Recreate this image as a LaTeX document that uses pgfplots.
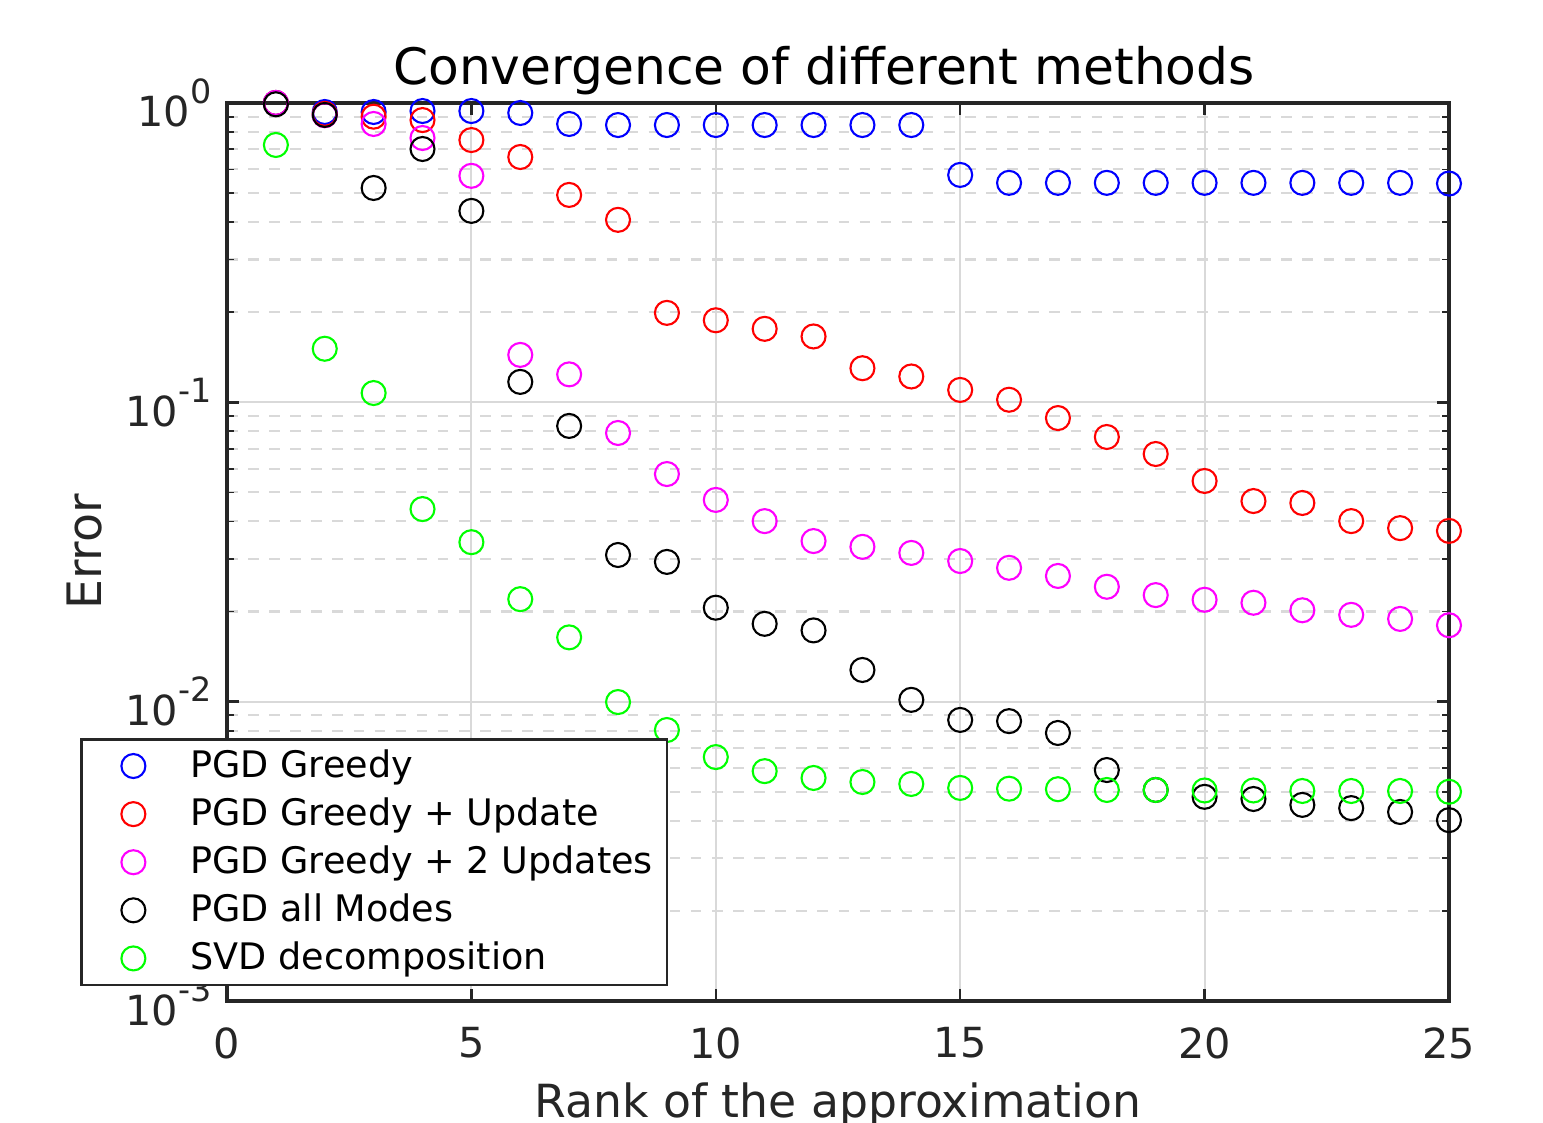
\documentclass[border=0pt]{standalone}
\usepackage{pgfplots}
\pgfplotsset{compat=1.18}
\usepackage{fontspec}
\setmainfont{DejaVu Sans}
\definecolor{mblue}{rgb}{0,0,1}
\definecolor{mred}{rgb}{1,0,0}
\definecolor{mmag}{rgb}{1,0,1}
\definecolor{mgreen}{rgb}{0,1,0}
\newcommand{\ee}[1]{10\raisebox{1.05ex}{\fontsize{9.5}{10}\selectfont #1}}
\begin{document}
\begin{tikzpicture}
\begin{axis}[
  at={(0,0)}, anchor=south west,
  scale only axis, width=122.2mm, height=89.8mm,
  xmin=0, xmax=25, ymin=1e-3, ymax=1,
  ymode=log,
  xtick={0,5,10,15,20,25}, xticklabels={0,5,10,15,20,25},
  ytick={1e-3,1e-2,1e-1,1},
  yticklabels={\ee{-3},\ee{-2},\ee{-1},\ee{0}},
  minor xtick={},
  tick align=inside,
  axis line style={line width=0.9pt, black!85},
  major tick style={line width=0.7pt, black!85},
  minor tick style={line width=0.5pt, black!85},
  major tick length=1.2mm, minor tick length=0.7mm,
  xmajorgrids, ymajorgrids, yminorgrids,
  major grid style={solid, black!15, line width=0.6pt},
  minor grid style={dashed, black!15, line width=0.6pt},
  ticklabel style={font=\fontsize{11.8}{13}\selectfont, text=black!85},
  xticklabel style={yshift=-1.4mm},
  yticklabel style={xshift=-0.3mm},
  xlabel={Rank of the approximation}, ylabel={Error},
  xlabel style={font=\fontsize{13}{15}\selectfont, text=black!85, yshift=0mm},
  ylabel style={font=\fontsize{13.5}{15}\selectfont, text=black!85, yshift=-0.1mm},
  title={Convergence of different methods},
  title style={font=\fontsize{14.3}{16}\selectfont, yshift=-2.5mm, xshift=-1.4mm},
  every axis plot/.append style={only marks, mark=o, mark size=1.2mm, line width=0.6pt,
    legend image code/.code={\draw[##1] plot coordinates {(4.3mm,0cm)}; \path[draw=none,fill=none] (0mm,0mm) rectangle (9.5mm,0.1mm);}},
  legend style={at={(-0.1203,0.2928)}, anchor=north west, draw=black!85, line width=0.8pt,
    font=\fontsize{10.4}{12.4}\selectfont, row sep=0.1mm, inner xsep=0.9mm, inner ysep=0.3mm,
    nodes={inner xsep=0.5mm}},
  legend cell align=left,
  clip=false,
]
\addplot[color=mblue] coordinates {
(1,1.0)(2,0.933)(3,0.933)(4,0.94)(5,0.94)(6,0.926)(7,0.851)(8,0.844)(9,0.844)(10,0.844)
(11,0.844)(12,0.844)(13,0.844)(14,0.844)(15,0.575)(16,0.541)(17,0.541)(18,0.541)(19,0.541)(20,0.541)
(21,0.541)(22,0.541)(23,0.541)(24,0.541)(25,0.538)};
\addlegendentry{PGD Greedy}
\addplot[color=mred] coordinates {
(1,1.0)(2,0.92)(3,0.90)(4,0.877)(5,0.752)(6,0.66)(7,0.493)(8,0.407)(9,0.199)(10,0.188)
(11,0.176)(12,0.166)(13,0.130)(14,0.122)(15,0.110)(16,0.102)(17,0.0886)(18,0.0766)(19,0.0672)(20,0.0546)
(21,0.0468)(22,0.0461)(23,0.0401)(24,0.0380)(25,0.0372)};
\addlegendentry{PGD Greedy + Update}
\addplot[color=mmag] coordinates {
(1,1.0)(2,0.91)(3,0.851)(4,0.764)(5,0.571)(6,0.144)(7,0.124)(8,0.079)(9,0.0576)(10,0.0472)
(11,0.0401)(12,0.0344)(13,0.0329)(14,0.0314)(15,0.0295)(16,0.0280)(17,0.0263)(18,0.0242)(19,0.0227)(20,0.0219)
(21,0.0214)(22,0.0202)(23,0.0195)(24,0.0189)(25,0.0180)};
\addlegendentry{PGD Greedy + 2 Updates}
\addplot[color=black] coordinates {
(1,0.99)(2,0.912)(3,0.520)(4,0.702)(5,0.436)(6,0.117)(7,0.0834)(8,0.0309)(9,0.0293)(10,0.0206)
(11,0.0182)(12,0.0173)(13,0.01276)(14,0.01014)(15,0.00869)(16,0.00861)(17,0.00786)(18,0.00591)(19,0.00507)(20,0.00481)
(21,0.00473)(22,0.00452)(23,0.00441)(24,0.00428)(25,0.00402)};
\addlegendentry{PGD all Modes}
\addplot[color=mgreen] coordinates {
(1,0.724)(2,0.151)(3,0.1074)(4,0.0440)(5,0.0341)(6,0.0220)(7,0.0164)(8,0.00997)(9,0.00804)(10,0.00653)
(11,0.00586)(12,0.00556)(13,0.00539)(14,0.00531)(15,0.00515)(16,0.00512)(17,0.00510)(18,0.00507)(19,0.00507)(20,0.00505)
(21,0.00505)(22,0.00503)(23,0.00503)(24,0.00503)(25,0.00500)};
\addlegendentry{SVD decomposition}
\end{axis}
\pgfresetboundingbox
\path (-22.7mm,-12.2mm) rectangle (131.6mm,100.1mm);
\end{tikzpicture}
\end{document}
